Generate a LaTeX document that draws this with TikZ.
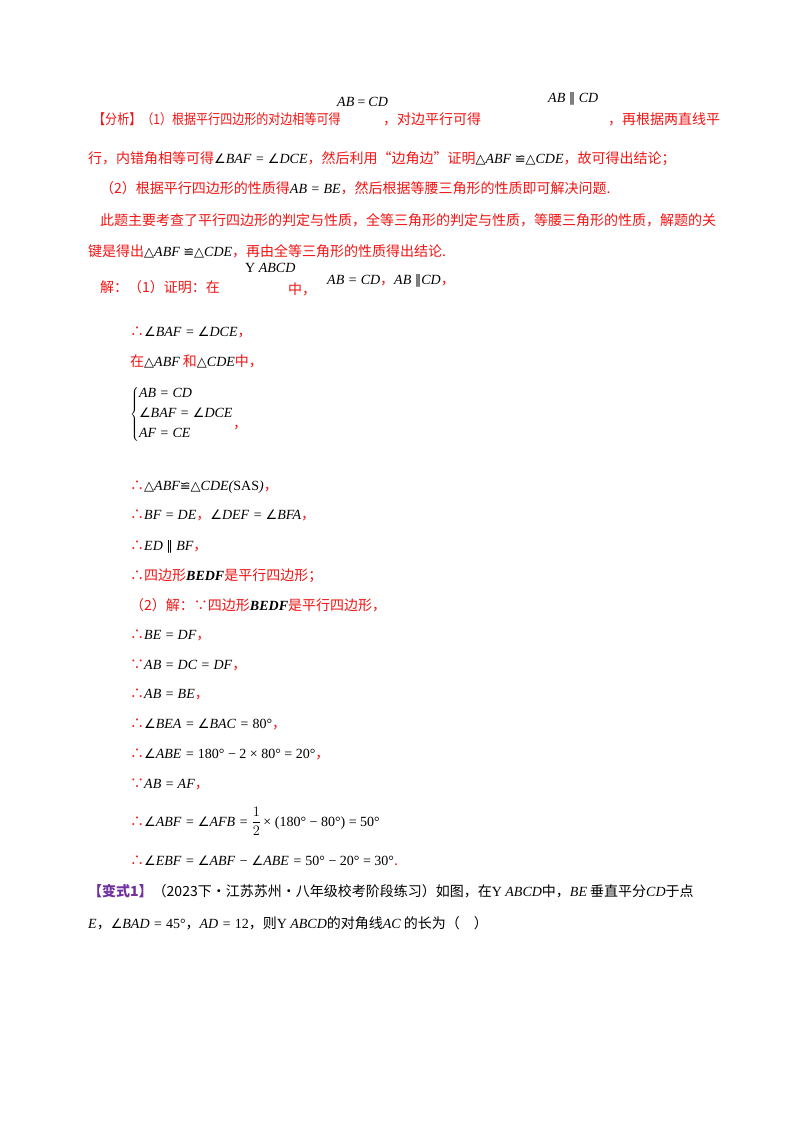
\documentclass[tikz,border=0pt]{standalone}
\usepackage{fontspec}
\setmainfont{Noto Sans CJK SC}
\newfontfamily\mf{Liberation Serif}
\newfontfamily\sy{DejaVu Sans}
\definecolor{rd}{RGB}{240,20,20}
\definecolor{pu}{RGB}{112,48,160}
\newcommand\m[1]{{\color{black}\mf\itshape #1}}
\newcommand\s[1]{{\sy\fontsize{13}{15}\selectfont #1}}
\begin{document}
\begin{tikzpicture}[x=1pt,y=-1pt,
 t/.style={anchor=base west,inner sep=0pt,font=\fontsize{14}{16}\selectfont,text=rd},
 tk/.style={t,text=black}]
\useasboundingbox (0,0) rectangle (800,1132);
\fill[white] (0,0) rectangle (800,1132);
% analysis
\node[t,xscale=0.86] (a1) at (93,124) {【分析】（1）根据平行四边形的对边相等可得};
\node[t] (a1m) at (337,106) {\m{AB\,=\,CD}};
\node[t] (a1b) at (383,124) {，对边平行可得};
\node[t] (a1m2) at (548,102) {\m{AB \s{∥} CD}};
\node[t] (a1c) at (608,124) {，再根据两直线平};
\node[t] (a2) at (88,163) {行，内错角相等可得\m{\s{∠}BAF = \s{∠}DCE}，然后利用“边角边”证明\m{\s{△}ABF \s{≌}\s{△}CDE}，故可得出结论；};
\node[t] (a3) at (100,193) {（2）根据平行四边形的性质得\m{AB = BE}，然后根据等腰三角形的性质即可解决问题.};
\node[t] (a4) at (100,225) {此题主要考查了平行四边形的判定与性质，全等三角形的判定与性质，等腰三角形的性质，解题的关};
\node[t] (a5) at (88,256) {键是得出\m{\s{△}ABF \s{≌}\s{△}CDE}，再由全等三角形的性质得出结论.};
% solution
\node[t] (s0) at (100,292) {解：（1）证明：在};
\node[t] (s0m) at (245,272) {\m{{\upshape Y} ABCD}};
\node[t] (s0b) at (288,294) {中，};
\node[t] (s0c) at (327,284) {\m{AB = CD}，\m{AB \s{∥}CD}，};
\node[t] (s1) at (130,336) {∴\m{\s{∠}BAF = \s{∠}DCE}，};
\node[t] (s2) at (130,366) {在\m{\s{△}ABF} 和\m{\s{△}CDE}中，};
\node[t] (s3) at (130,418) {\color{black}$\left\{\vcenter{\hbox{\begin{tabular}{@{}l@{}}\m{AB = CD}\\[4pt]\m{\s{∠}BAF = \s{∠}DCE}\\[4pt]\m{AF = CE}\end{tabular}}}\right.$};
\node[t] (s3c) at (233,428) {，};
\node[t] (s4) at (130,490) {∴\m{\s{△}ABF\s{≌}\s{△}CDE}\m{({\upshape SAS})}，};
\node[t] (s5) at (130,519) {∴\m{BF = DE}，\m{\s{∠}DEF = \s{∠}BFA}，};
\node[t] (s6) at (130,550) {∴\m{ED \s{∥} BF}，};
\node[t] (s7) at (130,580) {∴四边形\m{\bfseries BEDF}是平行四边形；};
\node[t] (s8) at (130,610) {（2）解：∵四边形\m{\bfseries BEDF}是平行四边形，};
\node[t] (s9) at (130,639) {∴\m{BE = DF}，};
\node[t] (s10) at (130,669) {∵\m{AB = DC = DF}，};
\node[t] (s11) at (130,698) {∴\m{AB = BE}，};
\node[t] (s12) at (130,728) {∴\m{\s{∠}BEA = \s{∠}BAC = {\upshape 80°}}，};
\node[t] (s13) at (130,758) {∴\m{\s{∠}ABE = {\upshape 180° − 2 × 80° = 20°}}，};
\node[t] (s14) at (130,788) {∵\m{AB = AF}，};
\node[t] (s15) at (130,826) {∴\m{\s{∠}ABF = \s{∠}AFB = $\displaystyle\frac{1}{2}$\,{\upshape × (180° − 80°) = 50°}}};
\node[t] (s16) at (130,865) {∴\m{\s{∠}EBF = \s{∠}ABF − \s{∠}ABE = {\upshape 50° − 20° = 30°}}.};
% variant
\node[tk] (v1) at (88,896) {{\color{pu}\bfseries【变式1】}（2023下·江苏苏州·八年级校考阶段练习）如图，在\m{{\upshape Y} ABCD}中，\m{BE} 垂直平分\m{CD}于点};
\node[tk] (v2) at (88,928) {\m{E}，\m{\s{∠}BAD = {\upshape 45°}}，\m{AD = {\upshape 12}}，则\m{{\upshape Y} ABCD}的对角线\m{AC} 的长为（\quad）};
\end{tikzpicture}
\end{document}
